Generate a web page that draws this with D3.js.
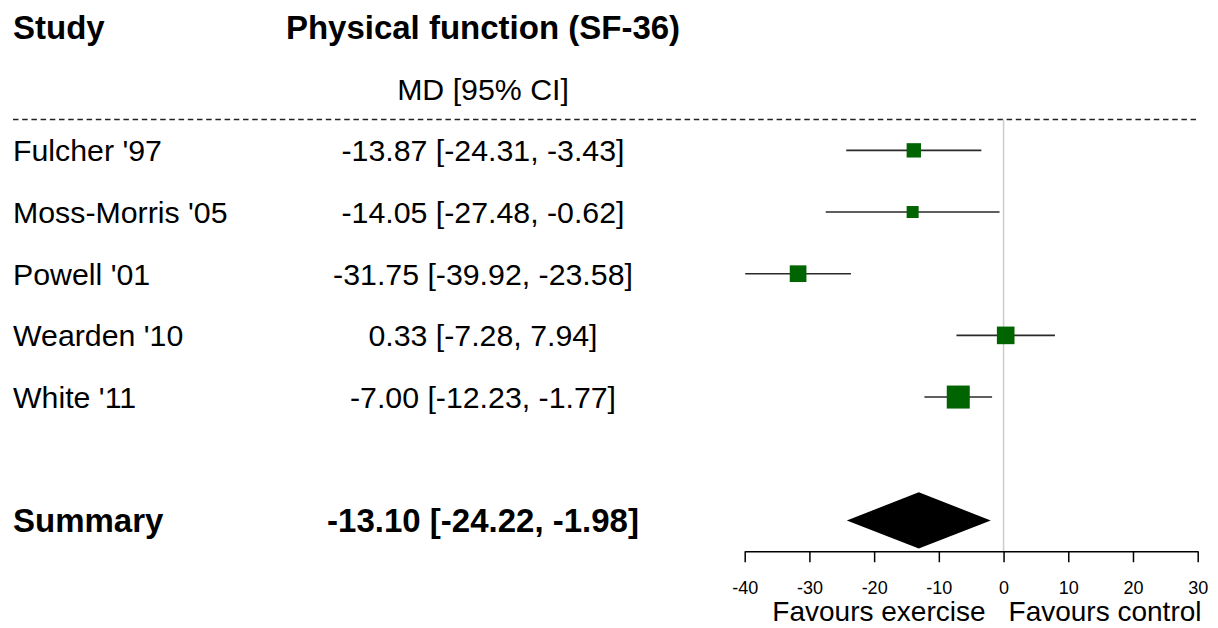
<!DOCTYPE html>
<html>
<head>
<meta charset="utf-8">
<script src="https://cdn.jsdelivr.net/npm/d3@7"></script>
<style>
  html, body { margin: 0; padding: 0; background: #fff; }
  svg { display: block; font-family: "Liberation Sans", Arial, sans-serif; }
</style>
</head>
<body>
<svg id="chart" width="1218" height="628"></svg>
<script>
// ---- data ----
const studies   = ["Fulcher '97", "Moss-Morris '05", "Powell '01", "Wearden '10", "White '11"];
const md        = [-13.87, -14.05, -31.75, 0.33, -7.00];
const ciLower   = [-24.31, -27.48, -39.92, -7.28, -12.23];
const ciUpper   = [-3.43, -0.62, -23.58, 7.94, -1.77];
const weights   = [18.3, 17.3, 19.3, 19.7, 22.0];   // estimated study weights (%)
const summaryLabel = "Summary";
const summaryEst   = [-13.10, -24.22, -1.98];        // estimate, lower, upper
const xTicks    = [-40, -30, -20, -10, 0, 10, 20, 30];
const headers   = ["Study", "Physical function (SF-36)", "MD [95% CI]"];
const favours   = ["Favours exercise", "Favours control"];

// ---- layout ----
const svg = d3.select("#chart");
const x = d3.scaleLinear().domain([-40, 30]).range([744.7, 1197.7]);
const y = d3.scaleLinear().domain([0, 8]).range([27, 520.4]);   // row index -> px
const size = d3.scaleLinear().domain(d3.extent(weights)).range([12, 23]);
const fmt = v => v.toFixed(2);
const ciText = (m, l, u) => `${fmt(m)} [${fmt(l)}, ${fmt(u)}]`;

const leftX = 13, midX = 483;
const fsN = 30.3, fsB = 33;

// headers
svg.append("text").attr("x", leftX).attr("y", y(0)).attr("dy", "0.36em")
  .attr("font-size", fsB).attr("font-weight", "bold").text(headers[0]);
svg.append("text").attr("x", midX).attr("y", y(0)).attr("dy", "0.36em")
  .attr("text-anchor", "middle")
  .attr("font-size", fsB).attr("font-weight", "bold").text(headers[1]);
svg.append("text").attr("x", midX).attr("y", y(1)).attr("dy", "0.36em")
  .attr("text-anchor", "middle").attr("font-size", fsN).text(headers[2]);

// dashed separator
svg.append("line")
  .attr("x1", leftX).attr("x2", 1196)
  .attr("y1", (y(1) + y(2)) / 2).attr("y2", (y(1) + y(2)) / 2)
  .attr("stroke", "#222").attr("stroke-width", 1.6)
  .attr("stroke-dasharray", "5.5,3.7");

// zero reference line
svg.append("line")
  .attr("x1", x(0)).attr("x2", x(0))
  .attr("y1", (y(1) + y(2)) / 2).attr("y2", y(8.5))
  .attr("stroke", "#cccccc").attr("stroke-width", 1.5);

// study rows
const rows = svg.append("g").selectAll("g").data(studies).join("g")
  .attr("transform", (d, i) => `translate(0,${y(i + 2)})`);

rows.append("text").attr("x", leftX).attr("dy", "0.36em")
  .attr("font-size", fsN).text(d => d);
rows.append("text").attr("x", midX).attr("dy", "0.36em")
  .attr("text-anchor", "middle").attr("font-size", fsN)
  .text((d, i) => ciText(md[i], ciLower[i], ciUpper[i]));
rows.append("line")
  .attr("x1", (d, i) => x(ciLower[i])).attr("x2", (d, i) => x(ciUpper[i]))
  .attr("stroke", "#2a2a2a").attr("stroke-width", 1.6);
rows.append("rect")
  .attr("x", (d, i) => x(md[i]) - size(weights[i]) / 2)
  .attr("y", (d, i) => -size(weights[i]) / 2)
  .attr("width", (d, i) => size(weights[i]))
  .attr("height", (d, i) => size(weights[i]))
  .attr("fill", "#006400");

// summary row
const sy = y(8), half = 0.455 * (y(1) - y(0));
svg.append("text").attr("x", leftX).attr("y", sy).attr("dy", "0.36em")
  .attr("font-size", fsB).attr("font-weight", "bold").text(summaryLabel);
svg.append("text").attr("x", midX).attr("y", sy).attr("dy", "0.36em")
  .attr("text-anchor", "middle")
  .attr("font-size", fsB).attr("font-weight", "bold")
  .text(ciText(summaryEst[0], summaryEst[1], summaryEst[2]));
svg.append("path")
  .attr("d", `M${x(summaryEst[1])},${sy} L${x(summaryEst[0])},${sy - half} L${x(summaryEst[2])},${sy} L${x(summaryEst[0])},${sy + half} Z`)
  .attr("fill", "#000");

// axis
const axisG = svg.append("g")
  .attr("transform", `translate(0,${y(8.5)})`)
  .call(d3.axisBottom(x).tickValues(xTicks).tickFormat(d => String(d))
        .tickSize(11).tickSizeOuter(0).tickPadding(18.5));
axisG.select(".domain").attr("stroke", "#000").attr("stroke-width", 1.5);
axisG.selectAll(".tick line").attr("stroke", "#000").attr("stroke-width", 1.5);
axisG.selectAll(".tick text").attr("fill", "#000")
  .attr("font-size", 18).attr("font-family", "Liberation Sans, Arial, sans-serif");

// favours labels
svg.append("text").attr("x", x(0) - 18).attr("y", 621)
  .attr("text-anchor", "end").attr("font-size", 28).text(favours[0]);
svg.append("text").attr("x", x(0) + 5).attr("y", 621)
  .attr("text-anchor", "start").attr("font-size", 28).text(favours[1]);
</script>
</body>
</html>
